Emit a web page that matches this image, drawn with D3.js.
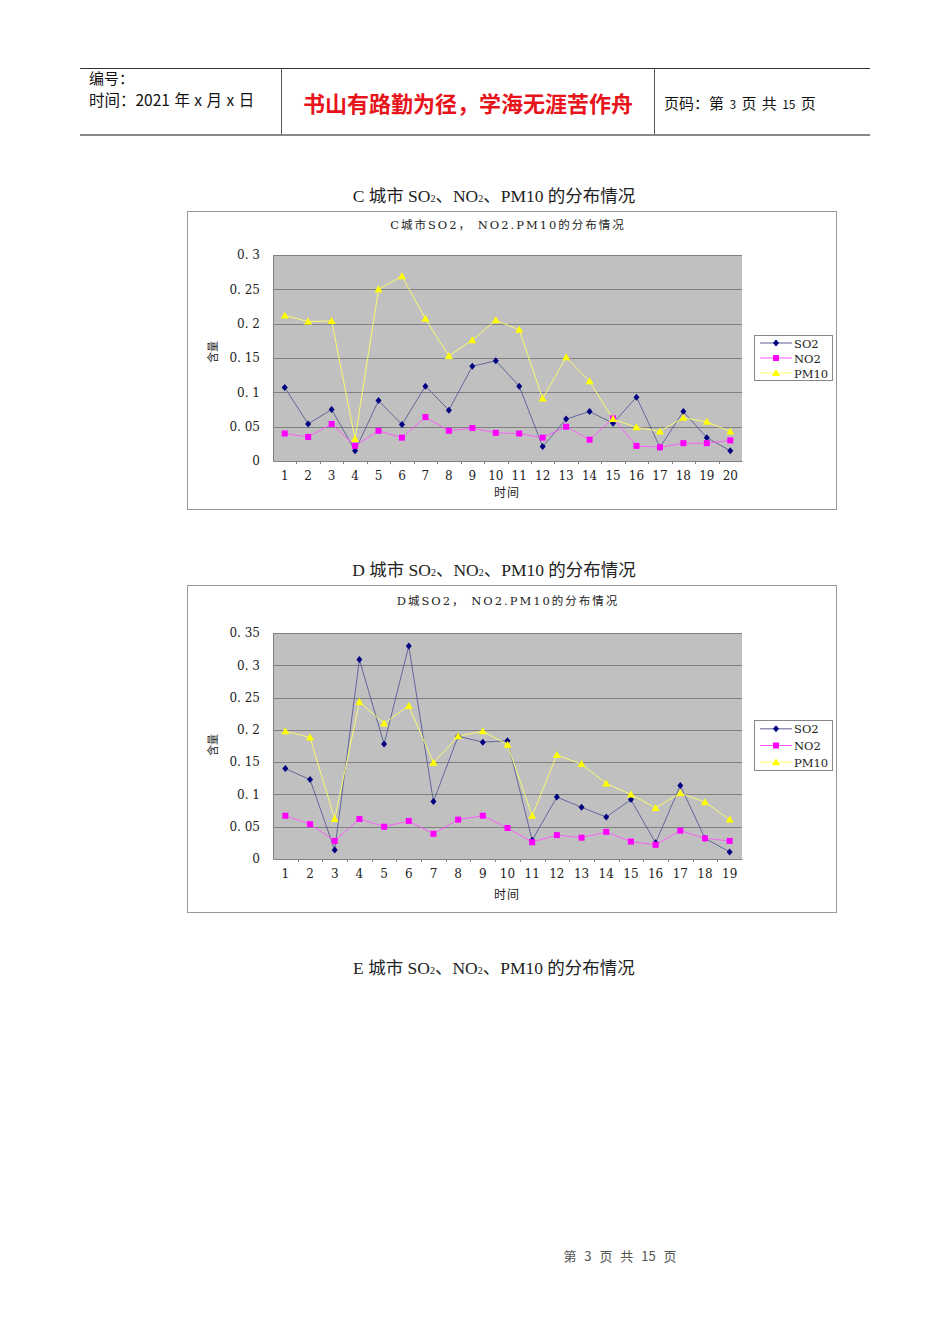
<!DOCTYPE html>
<html>
<head>
<meta charset="utf-8">
<script src="https://cdn.jsdelivr.net/npm/d3@7"></script>
<style>
  body { margin: 0; background: #fff; }
  svg text { font-family: "Liberation Serif", "Noto Sans CJK SC", serif; }
</style>
</head>
<body>
<svg id="page" width="950" height="1344"></svg>
<script>
// C city data (time 1..20)
const cTimes = d3.range(1, 21)
const cSO2 = [0.107, 0.054, 0.075, 0.015, 0.088, 0.053, 0.109, 0.074, 0.138, 0.146,
              0.109, 0.021, 0.061, 0.072, 0.055, 0.093, 0.020, 0.072, 0.034, 0.015]
const cNO2 = [0.040, 0.035, 0.054, 0.022, 0.044, 0.034, 0.064, 0.044, 0.048, 0.041,
              0.040, 0.034, 0.050, 0.031, 0.062, 0.022, 0.020, 0.026, 0.026, 0.030]
const cPM10 = [0.212, 0.203, 0.204, 0.032, 0.250, 0.269, 0.207, 0.153, 0.176, 0.205,
               0.191, 0.091, 0.151, 0.116, 0.061, 0.049, 0.043, 0.063, 0.057, 0.043]
const cTicks = [0, 0.05, 0.1, 0.15, 0.2, 0.25, 0.3]

// D city data (time 1..19)
const dTimes = d3.range(1, 20)
const dSO2 = [0.140, 0.123, 0.014, 0.309, 0.178, 0.330, 0.089, 0.190, 0.181, 0.183,
              0.029, 0.096, 0.080, 0.065, 0.092, 0.025, 0.114, 0.032, 0.011]
const dNO2 = [0.067, 0.054, 0.028, 0.062, 0.050, 0.059, 0.039, 0.061, 0.067, 0.048,
              0.026, 0.037, 0.033, 0.042, 0.027, 0.022, 0.044, 0.032, 0.028]
const dPM10 = [0.198, 0.188, 0.062, 0.243, 0.210, 0.237, 0.149, 0.190, 0.198, 0.177,
               0.067, 0.161, 0.147, 0.117, 0.100, 0.079, 0.102, 0.088, 0.061]
const dTicks = [0, 0.05, 0.1, 0.15, 0.2, 0.25, 0.3, 0.35]

const seriesNames = ['SO2', 'NO2', 'PM10']
const seriesColors = ['#000080', '#ff00ff', '#ffff00']
const lineColors = ['#5a5a9a', '#ff55ff', '#ffff66']

let svg = d3.select('#page')
const cjk = '"Noto Sans CJK SC", sans-serif'
const axisFont = '"DejaVu Serif", "Noto Sans CJK SC", serif'

// ---- page header ----
let header = svg.append('g')
header.append('line').attr('x1', 80).attr('x2', 870).attr('y1', 68.5).attr('y2', 68.5)
    .attr('stroke', '#333').attr('stroke-width', 1)
header.append('line').attr('x1', 80).attr('x2', 870).attr('y1', 135).attr('y2', 135)
    .attr('stroke', '#888').attr('stroke-width', 2)
;[281.5, 654.5].forEach(x => {
    header.append('line').attr('x1', x).attr('x2', x).attr('y1', 68).attr('y2', 134)
        .attr('stroke', '#555').attr('stroke-width', 1)
})
header.append('text').attr('x', 89).attr('y', 84).text('编号：')
    .style('font-family', cjk).style('font-size', '15px').attr('fill', '#111')
header.append('text').attr('x', 89).attr('y', 106).text('时间：2021 年 x 月 x 日')
    .style('font-family', cjk).style('font-size', '15.5px').attr('fill', '#111')
    .style('word-spacing', '1px')
header.append('text').attr('x', 468).attr('y', 112).attr('text-anchor', 'middle')
    .text('书山有路勤为径，学海无涯苦作舟')
    .style('font-family', cjk).style('font-size', '22px').style('font-weight', 'bold')
    .attr('fill', '#e8141b')
let pageNo = header.append('text').attr('x', 664).attr('y', 109)
    .style('font-family', cjk).style('font-size', '15px').attr('fill', '#111')
    .style('word-spacing', '2px')
pageNo.append('tspan').text('页码：第 ')
pageNo.append('tspan').text('3').style('font-size', '12px')
pageNo.append('tspan').text(' 页  共 ')
pageNo.append('tspan').text('15').style('font-size', '12px')
pageNo.append('tspan').text(' 页')

// ---- section headings ----
let headingText = (y, letter) => {
    let t = svg.append('text').attr('x', 494).attr('y', y).attr('text-anchor', 'middle')
        .style('font-size', '17.5px').attr('fill', '#222')
    t.append('tspan').text(letter + ' 城市 SO')
    t.append('tspan').text('2').style('font-size', '10px')
    t.append('tspan').text('、NO')
    t.append('tspan').text('2').style('font-size', '10px')
    t.append('tspan').text('、PM10 的分布情况')
}
headingText(202, 'C')
headingText(576, 'D')
headingText(974, 'E')

// ---- footer ----
svg.append('text').attr('x', 620).attr('y', 1261).attr('text-anchor', 'middle')
    .text('第 3 页 共 15 页').style('font-family', cjk).style('font-size', '13px')
    .style('word-spacing', '5px').attr('fill', '#555')

let marker = (g, i, x, y) => {
    if (i === 0) {
        g.append('path').attr('d', `M${x},${y - 3.5}L${x + 3},${y}L${x},${y + 3.5}L${x - 3},${y}Z`)
            .attr('fill', seriesColors[0])
    } else if (i === 1) {
        g.append('rect').attr('x', x - 3).attr('y', y - 3).attr('width', 6).attr('height', 6)
            .attr('fill', seriesColors[1])
    } else {
        g.append('path').attr('d', `M${x},${y - 4}L${x + 4},${y + 3}L${x - 4},${y + 3}Z`)
            .attr('fill', seriesColors[2])
    }
}

let drawChart = (cfg) => {
    let g = svg.append('g')
    g.append('rect').attr('x', cfg.box[0] + 0.5).attr('y', cfg.box[1] + 0.5)
        .attr('width', cfg.box[2]).attr('height', cfg.box[3])
        .attr('fill', '#fff').attr('stroke', '#999')

    g.append('text').attr('x', 508).attr('y', cfg.titleY).attr('text-anchor', 'middle')
        .text(cfg.title).style('font-family', axisFont)
        .style('font-size', '11.5px').style('letter-spacing', '2px')
        .attr('fill', '#222')

    let xScale = d3.scaleBand().domain(cfg.times).range([cfg.plot[0], cfg.plot[1]])
    let yScale = d3.scaleLinear().domain([0, d3.max(cfg.ticks)]).range([cfg.plot[3], cfg.plot[2]])

    g.append('rect').attr('x', cfg.plot[0]).attr('y', cfg.plot[2])
        .attr('width', cfg.plot[1] - cfg.plot[0]).attr('height', cfg.plot[3] - cfg.plot[2])
        .attr('fill', '#c0c0c0')

    // grid lines
    g.selectAll('.grid').data(cfg.ticks.slice(1)).enter().append('line')
        .attr('x1', cfg.plot[0]).attr('x2', cfg.plot[1])
        .attr('y1', d => Math.round(yScale(d)) + 0.5).attr('y2', d => Math.round(yScale(d)) + 0.5)
        .attr('stroke', '#808080')

    // y axis
    let yAxis = d3.axisLeft(yScale).tickValues(cfg.ticks).tickSize(0).tickPadding(13)
        .tickFormat(d => d === 0 ? '0' : d3.format('')(+d.toFixed(2)).replace('.', '. '))
    let ya = g.append('g').attr('transform', `translate(${cfg.plot[0]},0)`).call(yAxis)
    ya.select('.domain').attr('stroke', '#808080')
    ya.selectAll('text').style('font-family', axisFont)
        .style('font-size', '12px').attr('fill', '#222')

    // x axis
    let xAxis = d3.axisBottom(xScale).tickSize(0).tickPadding(10)
    let xa = g.append('g').attr('transform', `translate(0,${cfg.plot[3]})`).call(xAxis)
    xa.select('.domain').attr('stroke', '#808080')
    xa.selectAll('text').style('font-family', axisFont)
        .style('font-size', '12px').attr('fill', '#222')
    // tick marks at band boundaries
    g.selectAll('.xtick').data(cfg.times.slice(1)).enter().append('line')
        .attr('x1', d => Math.round(xScale(d)) + 0.5).attr('x2', d => Math.round(xScale(d)) + 0.5)
        .attr('y1', cfg.plot[3]).attr('y2', cfg.plot[3] + 3)
        .attr('stroke', '#808080')

    g.append('text').attr('x', 507).attr('y', cfg.xTitleY).attr('text-anchor', 'middle')
        .text('时间').style('font-size', '12px').style('letter-spacing', '1px').attr('fill', '#222')
    g.append('text').attr('transform', `translate(217,${cfg.yTitleY}) rotate(-90)`)
        .attr('text-anchor', 'middle').text('含量').style('font-size', '11px').attr('fill', '#222')

    let cx = d => xScale(d) + xScale.bandwidth() / 2
    cfg.series.forEach((vals, i) => {
        let line = d3.line().x((v, k) => cx(cfg.times[k])).y(v => yScale(v))
        g.append('path').attr('d', line(vals)).attr('fill', 'none')
            .attr('stroke', lineColors[i]).attr('stroke-width', 0.9)
    })
    cfg.series.forEach((vals, i) => {
        vals.forEach((v, k) => marker(g, i, cx(cfg.times[k]), yScale(v)))
    })

    // legend
    let lg = g.append('g')
    lg.append('rect').attr('x', cfg.legend[0] + 0.5).attr('y', cfg.legend[1] + 0.5)
        .attr('width', 78).attr('height', cfg.legend[2])
        .attr('fill', '#fff').attr('stroke', '#888')
    seriesNames.forEach((name, i) => {
        let y = cfg.legend[1] + cfg.legend[2] * (i + 0.5) / 3 + 0.5
        lg.append('line').attr('x1', 760).attr('x2', 792).attr('y1', y).attr('y2', y)
            .attr('stroke', lineColors[i])
        marker(lg, i, 776, y)
        lg.append('text').attr('x', 794).attr('y', y + 4.5).text(name)
            .style('font-family', axisFont).style('font-size', '11.5px').attr('fill', '#222')
    })
}

drawChart({
    title: 'C城市SO2， NO2.PM10的分布情况',
    times: cTimes, series: [cSO2, cNO2, cPM10], ticks: cTicks,
    box: [187, 211, 649, 298], plot: [273, 742, 255, 461],
    titleY: 229, xTitleY: 497, yTitleY: 352, legend: [754, 335, 45]
})

drawChart({
    title: 'D城SO2， NO2.PM10的分布情况',
    times: dTimes, series: [dSO2, dNO2, dPM10], ticks: dTicks,
    box: [187, 585, 649, 327], plot: [273, 742, 633, 859],
    titleY: 605, xTitleY: 899, yTitleY: 745, legend: [754, 720, 50]
})
</script>
</body>
</html>
